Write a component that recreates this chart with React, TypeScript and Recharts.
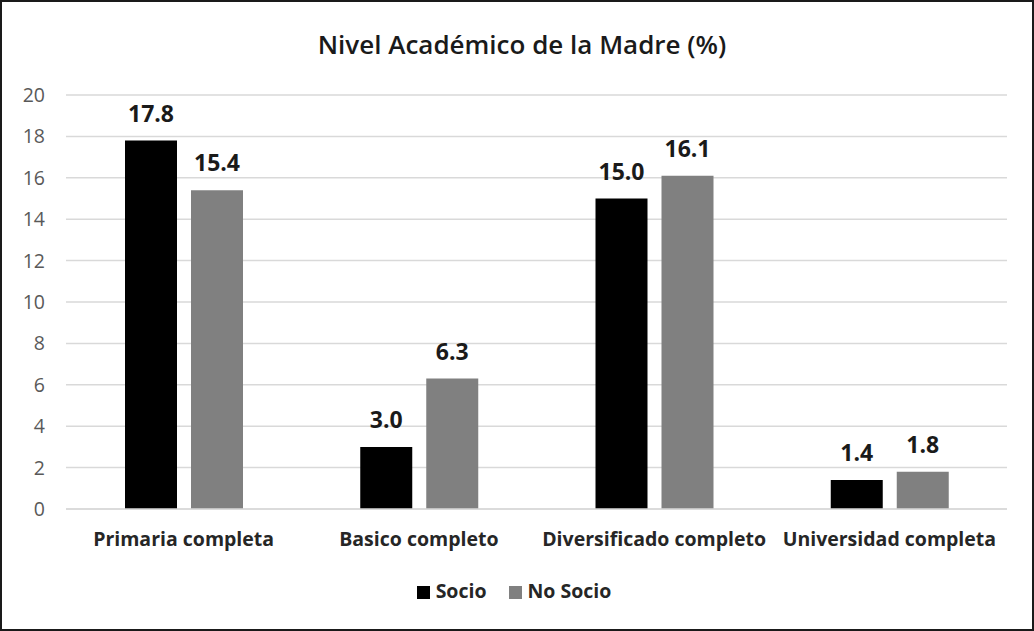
import React from 'react';
import {
    BarChart, Bar, XAxis, YAxis, CartesianGrid, Legend, LabelList,
} from 'recharts';

const categories = ['Primaria completa', 'Basico completo', 'Diversificado completo', 'Universidad completa'];
const socio = [17.8, 3.0, 15.0, 1.4];
const noSocio = [15.4, 6.3, 16.1, 1.8];
const yTicks = [0, 2, 4, 6, 8, 10, 12, 14, 16, 18, 20];

const data = categories.map((name, i) => ({ name, socio: socio[i], noSocio: noSocio[i] }));

const FONT = '"Open Sans", "Noto Sans", sans-serif';

const fmt = (v: any) => Number(v).toFixed(1);

const labelStyle = { fill: '#1a1a1a', fontSize: 23, fontWeight: 700, fontFamily: FONT };

const App: React.FC = () => (
    <div style={{
        position: 'absolute', left: 0, top: 0, width: 1034, height: 631,
        boxSizing: 'border-box', border: '2px solid #1a1a1a', background: '#fff', fontFamily: FONT,
    }}>
        <div style={{
            position: 'absolute', top: 24, left: 0, width: 1040, textAlign: 'center',
            fontSize: 26, color: '#1a1a1a', fontWeight: 600,
        }}>
            Nivel Académico de la Madre (%)
        </div>
        <div style={{ position: 'absolute', left: -2, top: -2 }}>
            <BarChart width={1034} height={631} data={data}
                margin={{ top: 95, right: 27, bottom: 55, left: 0 }}
                barGap={14} barSize={52}>
                <CartesianGrid vertical={false} stroke="#d9d9d9" strokeWidth={1.5} />
                <XAxis dataKey="name" axisLine={{ stroke: '#d9d9d9', strokeWidth: 1.5 }} tickLine={false}
                    tickSize={0} tickMargin={23} height={40} interval={0}
                    tick={{ fill: '#262626', fontSize: 19.5, fontWeight: 700, fontFamily: FONT }} />
                <YAxis domain={[0, 20]} ticks={yTicks} axisLine={false} tickLine={false}
                    tickSize={0} tickMargin={21} width={66}
                    tick={{ fill: '#595959', fontSize: 19.5, fontFamily: FONT }} />
                <Legend verticalAlign="bottom" iconType="square" iconSize={13}
                    itemSorter={(item: any) => (item.dataKey === 'socio' ? 0 : 1)}
                    wrapperStyle={{ position: 'absolute', top: 577, left: 2, width: 1034, fontSize: 19.5, fontWeight: 700, fontFamily: FONT }}
                    formatter={(value: any) => (
                        <span style={{ color: '#262626', paddingLeft: 2, paddingRight: value === 'Socio' ? 12 : 0 }}>{value}</span>
                    )} />
                <Bar dataKey="socio" name="Socio" fill="#000000" isAnimationActive={false}>
                    <LabelList dataKey="socio" position="top" offset={19} formatter={fmt} style={labelStyle} />
                </Bar>
                <Bar dataKey="noSocio" name="No Socio" fill="#808080" isAnimationActive={false}>
                    <LabelList dataKey="noSocio" position="top" offset={19} formatter={fmt} style={labelStyle} />
                </Bar>
            </BarChart>
        </div>
    </div>
);

export default App;
